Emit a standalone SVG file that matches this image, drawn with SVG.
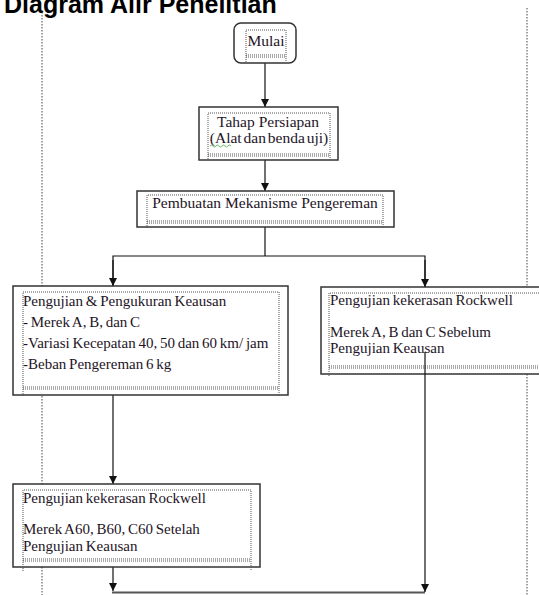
<svg xmlns="http://www.w3.org/2000/svg" width="539" height="595" viewBox="0 0 539 595">
<style>
.title{font-family:"Liberation Sans",Arial,sans-serif;font-weight:bold;font-size:25px;fill:#000}
.t{font-family:"Liberation Serif","Times New Roman",serif;font-size:15.5px;fill:#1e1426}
.ts{font-family:"Liberation Serif","Times New Roman",serif;font-size:15px;fill:#1e1426;word-spacing:-1px}
.box{fill:#fff;stroke:#333;stroke-width:1.5}
.dot{fill:none;stroke:#555;stroke-width:1;stroke-dasharray:1 1}
.guide{fill:none;stroke:#444;stroke-width:1;stroke-dasharray:1.5 1.5}
.c{fill:none;stroke:#111;stroke-width:1.2}
</style>
<defs>
<marker id="ad" markerUnits="userSpaceOnUse" markerWidth="8" markerHeight="9" refX="4" refY="8" orient="0" viewBox="0 0 8 9">
<path d="M0,0 L8,0 L4,8 Z" fill="#111"/>
</marker>
</defs>
<rect width="539" height="595" fill="#fff"/>
<text class="title" x="4" y="13">Diagram Alir Penelitian</text>
<g id="guides">
<line class="guide" x1="42" y1="12" x2="42" y2="595"/>
<line class="guide" x1="527" y1="8" x2="527" y2="595"/>
</g>
<g id="connectors">
<line class="c" x1="265" y1="63" x2="265" y2="107" marker-end="url(#ad)"/>
<line class="c" x1="265" y1="160" x2="265" y2="191" marker-end="url(#ad)"/>
<polyline class="c" points="265,227 265,256"/>
<polyline class="c" points="113,286 113,256 425,256 425,287"/>
<line class="c" x1="113" y1="260" x2="113" y2="286" marker-end="url(#ad)"/>
<line class="c" x1="425" y1="260" x2="425" y2="287" marker-end="url(#ad)"/>
<line class="c" x1="113" y1="395" x2="113" y2="484" marker-end="url(#ad)"/>
<line class="c" x1="113" y1="567" x2="113" y2="591" marker-end="url(#ad)"/>
<line x1="112" y1="592.5" x2="425" y2="592.5" stroke="#555" stroke-width="2"/>
</g>
<g id="mulai">
<rect class="box" x="234" y="23" width="62" height="40" rx="7"/>
<path class="dot" d="M246,62 V30 H286 V62 M246,55 H286 M246,57 H286"/>
<text class="t" x="266" y="46" text-anchor="middle">Mulai</text>
</g>
<g id="tahap">
<rect class="box" x="199" y="107" width="139" height="53"/>
<path class="dot" d="M208,161 V113 H330 V161 M208,154 H330 M208,156 H330"/>
<text class="t" x="268" y="127" text-anchor="middle">Tahap Persiapan</text>
<text class="t" x="269" y="143" text-anchor="middle" word-spacing="-2">(Alat dan benda uji)</text>
<path d="M210,146 q1.5,-2 3,0 t3,0 t3,0 t3,0 t3,0 t3,0 t3,0" fill="none" stroke="#4a4" stroke-width="0.8"/>
</g>
<g id="pembuatan">
<rect class="box" x="137" y="191" width="257" height="36"/>
<path class="dot" d="M147,228 V195 H383 V228 M147,221 H383 M147,223 H383"/>
<text class="t" x="265" y="208" text-anchor="middle">Pembuatan Mekanisme Pengereman</text>
</g>
<g id="pengujian-keausan">
<rect class="box" x="13" y="286" width="275" height="109"/>
<path class="dot" d="M23,396 V292 H279 V396 M23,387 H279 M23,389 H279"/>
<text class="ts" x="23" y="306">Pengujian &amp; Pengukuran Keausan</text>
<text class="ts" x="23" y="327">- Merek A, B, dan C</text>
<text class="ts" x="23" y="348">-Variasi Kecepatan 40, 50 dan 60 km/ jam</text>
<text class="ts" x="23" y="369">-Beban Pengereman 6 kg</text>
</g>
<g id="rockwell-sebelum">
<rect class="box" x="321" y="287" width="225" height="87"/>
<path class="dot" d="M329,376 V293 H546 M329,366 H546 M329,368 H546"/>
<text class="ts" x="330" y="305">Pengujian kekerasan Rockwell</text>
<text class="ts" x="330" y="337">Merek A, B dan C Sebelum</text>
<text class="ts" x="330" y="353">Pengujian Keausan</text>
</g>
<g id="rockwell-setelah">
<rect class="box" x="13" y="484" width="247" height="83"/>
<path class="dot" d="M23,571 V490 H251 V571 M23,559 H251 M23,561 H251"/>
<text class="ts" x="23" y="503">Pengujian kekerasan Rockwell</text>
<text class="ts" x="23" y="534">Merek A60, B60, C60 Setelah</text>
<text class="ts" x="23" y="551">Pengujian Keausan</text>
</g>
<g id="connectors-over">
<line class="c" x1="425" y1="352" x2="425" y2="592" marker-end="url(#ad)"/>
</g>
</svg>
